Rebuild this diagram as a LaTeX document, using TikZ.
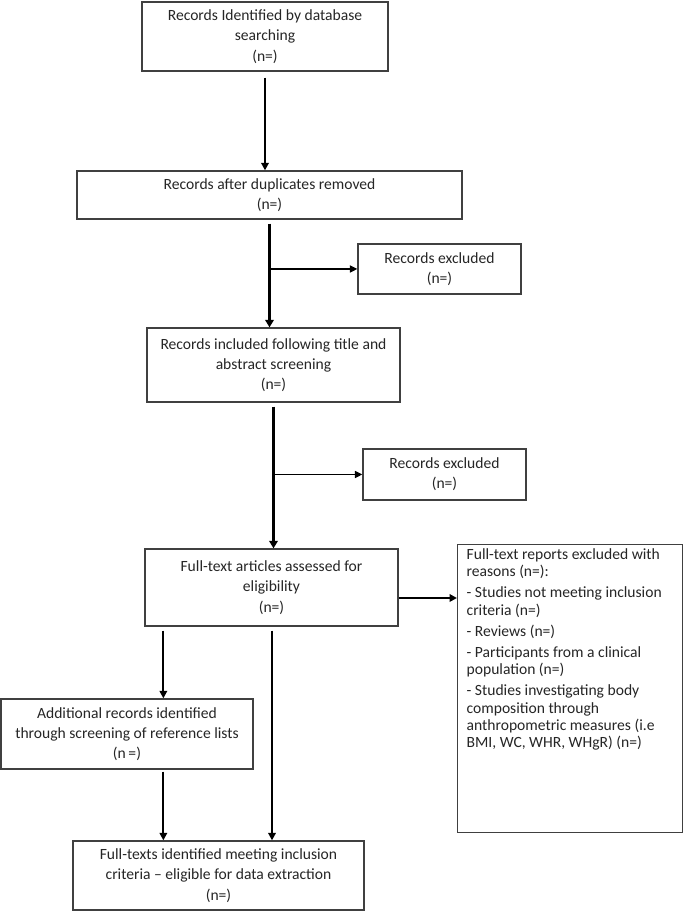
\documentclass[tikz,border=0pt]{standalone}
\usepackage{fontspec}
\setmainfont{Carlito}
\usetikzlibrary{arrows.meta,calc}
\begin{document}
\begin{tikzpicture}[x=1pt,y=1pt,
  box/.style={draw=black!75,line width=1.3pt,fill=white,inner sep=0pt,align=center,
    font=\fontsize{15.6}{20.2}\selectfont,text=black!85},
  arr/.style={draw=black,line width=2.1pt,-{Triangle[length=7.5pt,width=7.5pt]}},
  tarr/.style={draw=black,line width=3pt,-{Triangle[length=7.5pt,width=8.5pt]}},
  brarr/.style={draw=black,line width=1.6pt,-{Triangle[length=7.5pt,width=7pt]}}]
\useasboundingbox (0,0) rectangle (685,913);
\fill[white] (0,0) rectangle (685,913);

\node[box,minimum width=246,minimum height=69] (b1) at (265,876.5)
  {Records Identified by database\\searching\\(n=)};
\node[box,minimum width=385,minimum height=48] (b2) at (269.5,718)
  {Records after duplicates removed\\(n=)};
\node[box,minimum width=163,minimum height=50] (b3) at (439.5,644)
  {Records excluded\\(n=)};
\node[box,minimum width=253,minimum height=74] (b4) at (273.5,548)
  {Records included following title and\\abstract screening\\(n=)};
\node[box,minimum width=163,minimum height=51] (b5) at (444.5,438.5)
  {Records excluded\\(n=)};
\node[box,minimum width=253,minimum height=77] (b6) at (271.5,325.5)
  {Full-text articles assessed for\\eligibility\\(n=)};
\node[box,anchor=north west,inner xsep=9pt,inner ysep=0pt,align=left,
  font=\fontsize{15.6}{17.2}\selectfont] (b7) at (457,369)
  {\parbox[c][288pt][t]{207pt}{\raggedright\setlength{\parskip}{4pt}\vspace*{0pt}%
  Full-text reports excluded with\\reasons (n=):\par
  - Studies not meeting inclusion\\criteria (n=)\par
  - Reviews (n=)\par
  - Participants from a clinical\\population (n=)\par
  - Studies investigating body\\composition through\\anthropometric measures (i.e\\BMI, WC, WHR, WHgR) (n=)\par}};
\node[box,minimum width=252,minimum height=70] (b8) at (127,179)
  {Additional records identified\\through screening of reference lists\\(n\,=)};
\node[box,minimum width=291,minimum height=69] (b9) at (218.5,37.5)
  {Full-texts identified meeting inclusion\\criteria -- eligible for data extraction\\(n=)};

% connectors
\draw[arr] ([yshift=-6pt]b1.south) -- (b1.south |- b2.north);
\draw[tarr] ([yshift=-4pt]b2.south) -- (b2.south |- b4.north);
\draw[brarr] (b2.south |- b3.west) -- (b3.west);
\draw[tarr] ([yshift=-4pt]b4.south) -- (b4.south |- b6.north);
\draw[brarr] (b4.south |- b5.west) -- (b5.west);
\coordinate (r6) at ([yshift=-10.5pt]b6.east);
\draw[arr] (r6) -- (r6 -| b7.west);
\coordinate (xl) at ([xshift=19pt]b6.south west);
\draw[arr] ([yshift=-4pt]xl) -- (xl |- b8.north);
\draw[arr] ([yshift=-4pt,xshift=0.5pt]b6.south) -- ([xshift=0.5pt]b6.south |- b9.north);
\draw[arr] ([yshift=-2pt]xl |- b8.south) -- (xl |- b9.north);
\end{tikzpicture}
\end{document}
